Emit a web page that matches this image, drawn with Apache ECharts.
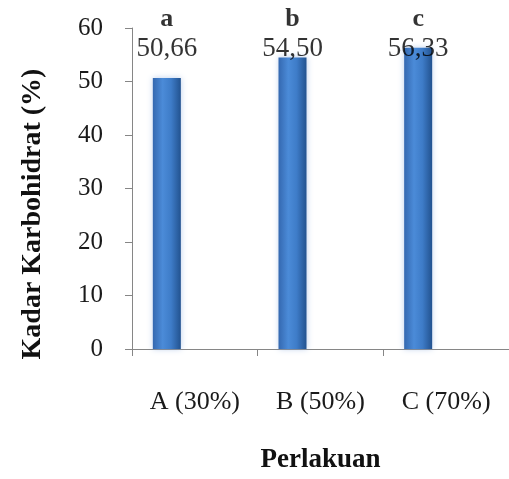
<!DOCTYPE html>
<html>
<head>
<meta charset="utf-8">
<script src="https://cdn.jsdelivr.net/npm/echarts@6/dist/echarts.min.js"></script>
<style>
  html, body { margin: 0; padding: 0; background: #ffffff; }
  #chart { width: 509px; height: 479px; }
</style>
</head>
<body>
<div id="chart"></div>
<script>
// ---- data ----
const categories = ['A (30%)', 'B (50%)', 'C (70%)'];
const values = [50.66, 54.50, 56.33];
const valueLabels = ['50,66', '54,50', '56,33'];
const letters = ['a', 'b', 'c'];
const labelLevels = [53.5, 53.5, 53.5];   // labels float at a common level in the picture
const yMin = 0, yMax = 60, yInterval = 10;
const yTitle = 'Kadar Karbohidrat (%)';
const xTitle = 'Perlakuan';

const serif = "'Liberation Serif', 'Times New Roman', serif";
const chart = echarts.init(document.getElementById('chart'), null, { renderer: 'canvas' });

const barColor = new echarts.graphic.LinearGradient(0, 0, 1, 0, [
  { offset: 0, color: '#3468b0' },
  { offset: 0.35, color: '#4b8bd8' },
  { offset: 0.65, color: '#3e7cc8' },
  { offset: 1, color: '#22528f' }
]);

const option = {
  backgroundColor: '#ffffff',
  animation: false,
  grid: { left: 132, right: 0, top: 28, bottom: 126, containLabel: false },
  xAxis: {
    type: 'category',
    data: categories,
    boundaryGap: true,
    axisLine: { show: true, lineStyle: { color: '#868686', width: 1 } },
    axisTick: { show: true, length: 7, inside: false, alignWithLabel: false, lineStyle: { color: '#868686' } },
    axisLabel: { margin: 40, color: '#1a1a1a', fontFamily: serif, fontSize: 26, interval: 0 },
    splitLine: { show: false },
    name: xTitle,
    nameLocation: 'middle',
    nameGap: 98,
    nameTextStyle: { color: '#111', fontFamily: serif, fontSize: 27, fontWeight: 'bold' }
  },
  yAxis: {
    type: 'value',
    min: yMin, max: yMax, interval: yInterval,
    axisLine: { show: true, lineStyle: { color: '#868686', width: 1 } },
    axisTick: { show: true, length: 7, inside: false, lineStyle: { color: '#868686' } },
    axisLabel: { margin: 29, color: '#1a1a1a', fontFamily: serif, fontSize: 25 },
    splitLine: { show: false }
  },
  graphic: [{
    type: 'text',
    x: 33, y: 214,
    rotation: Math.PI / 2,
    style: {
      text: yTitle,
      fill: '#111',
      font: "bold 28px " + serif,
      align: 'center',
      verticalAlign: 'middle'
    }
  }],
  series: [
    {
      type: 'bar',
      name: 'Kadar Karbohidrat',
      data: values,
      barWidth: 28,
      barGap: '0%',
      itemStyle: {
        color: barColor,
        shadowColor: 'rgba(110,150,215,0.45)',
        shadowBlur: 6
      }
    },
    { type: 'bar', name: 's2', data: [null, null, null], barWidth: 28, barGap: '0%' },
    { type: 'bar', name: 's3', data: [null, null, null], barWidth: 28, barGap: '0%' },
    {
      type: 'scatter',
      name: 'labels',
      data: labelLevels,
      symbolSize: 0,
      silent: true,
      label: {
        show: true,
        position: 'top',
        distance: 0,
        offset: [-28, 0],
        formatter: function (p) {
          return '{l|' + letters[p.dataIndex] + '}\n{v|' + valueLabels[p.dataIndex] + '}';
        },
        rich: {
          l: { fontFamily: serif, fontSize: 26, fontWeight: 'bold', color: '#000', lineHeight: 30, align: 'center' },
          v: { fontFamily: serif, fontSize: 27, color: '#000', lineHeight: 28, align: 'center' }
        }
      }
    }
  ]
};
chart.setOption(option);
</script>
</body>
</html>
